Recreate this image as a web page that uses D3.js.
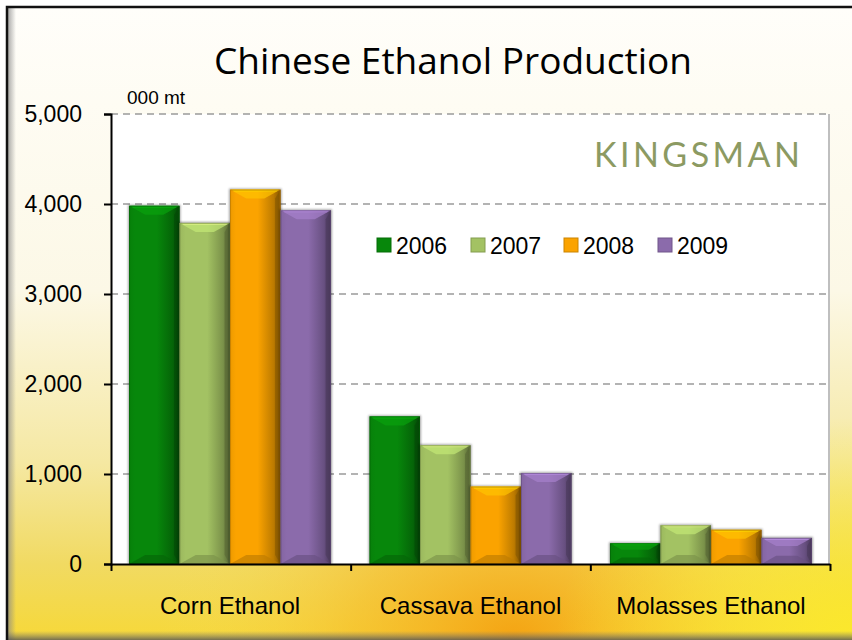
<!DOCTYPE html>
<html>
<head>
<meta charset="utf-8">
<script src="https://cdn.jsdelivr.net/npm/d3@7"></script>
<style>
  html, body { margin: 0; padding: 0; background: #fff; }
  svg { display: block; }
  text { font-family: "Liberation Sans", Arial, sans-serif; }
</style>
</head>
<body>
<svg id="chart" width="852" height="640"></svg>
<script>
// chart data
var categories = ['Corn Ethanol', 'Cassava Ethanol', 'Molasses Ethanol'];
var years = ['2006', '2007', '2008', '2009'];
var v2006 = [3980, 1640, 230];
var v2007 = [3790, 1320, 430];
var v2008 = [4160, 860, 380];
var v2009 = [3930, 1010, 290];
var yTicks = [0, 1000, 2000, 3000, 4000, 5000];

var series = [v2006, v2007, v2008, v2009];
var colors = ['#07870b', '#a3c263', '#fba300', '#8b6bab'];

var W = 852, H = 640;
var plot = { left: 111, right: 830, top: 114, bottom: 564 };

var svg = d3.select('#chart');
var defs = svg.append('defs');

// background
var bg = defs.append('linearGradient').attr('id', 'bg')
    .attr('x1', 0).attr('y1', 0).attr('x2', 0).attr('y2', 1);
bg.append('stop').attr('offset', '0%').attr('stop-color', '#fffefa');
bg.append('stop').attr('offset', '45%').attr('stop-color', '#fcf8e6');
bg.append('stop').attr('offset', '72%').attr('stop-color', '#f5e8a2');
bg.append('stop').attr('offset', '88%').attr('stop-color', '#f1da62');
bg.append('stop').attr('offset', '100%').attr('stop-color', '#f6d838');

var sun = defs.append('radialGradient').attr('id', 'sun')
    .attr('cx', 0.6).attr('cy', 1.0).attr('r', 0.42);
sun.append('stop').attr('offset', '0%').attr('stop-color', '#f4a010').attr('stop-opacity', 0.95);
sun.append('stop').attr('offset', '45%').attr('stop-color', '#f6b828').attr('stop-opacity', 0.55);
sun.append('stop').attr('offset', '100%').attr('stop-color', '#f8e060').attr('stop-opacity', 0);

var rightGlow = defs.append('radialGradient').attr('id', 'rglow')
    .attr('cx', 1.0).attr('cy', 1.0).attr('r', 0.35);
rightGlow.append('stop').attr('offset', '0%').attr('stop-color', '#fbe82c').attr('stop-opacity', 1);
rightGlow.append('stop').attr('offset', '100%').attr('stop-color', '#fbe82c').attr('stop-opacity', 0);

var bottomShade = defs.append('linearGradient').attr('id', 'bshade')
    .attr('x1', 0).attr('y1', 0).attr('x2', 0).attr('y2', 1);
bottomShade.append('stop').attr('offset', '0%').attr('stop-color', '#777').attr('stop-opacity', 0);
bottomShade.append('stop').attr('offset', '100%').attr('stop-color', '#555').attr('stop-opacity', 0.8);

var leftShade = defs.append('linearGradient').attr('id', 'lshade')
    .attr('x1', 0).attr('y1', 0).attr('x2', 1).attr('y2', 0);
leftShade.append('stop').attr('offset', '0%').attr('stop-color', '#888').attr('stop-opacity', 0.7);
leftShade.append('stop').attr('offset', '100%').attr('stop-color', '#888').attr('stop-opacity', 0);

svg.append('rect').attr('width', W).attr('height', H).attr('fill', '#fff');
svg.append('rect').attr('x', 6).attr('y', 6).attr('width', W - 6).attr('height', H - 6).attr('fill', 'url(#bg)');
svg.append('rect').attr('x', 6).attr('y', 6).attr('width', W - 6).attr('height', H - 6).attr('fill', 'url(#sun)');
svg.append('rect').attr('x', 6).attr('y', 6).attr('width', W - 6).attr('height', H - 6).attr('fill', 'url(#rglow)');
svg.append('rect').attr('x', 8).attr('y', 8).attr('width', 8).attr('height', H - 8).attr('fill', 'url(#lshade)');
svg.append('rect').attr('x', 6).attr('y', H - 9).attr('width', W - 6).attr('height', 9).attr('fill', 'url(#bshade)');
svg.append('path').attr('d', 'M7,' + H + 'V7H' + W)
    .attr('fill', 'none').attr('stroke', '#111').attr('stroke-width', 2.5);

// scales
var y = d3.scaleLinear().domain([0, 5000]).range([plot.bottom, plot.top]);
var x0 = d3.scaleBand().domain(categories).range([plot.left, plot.right])
    .paddingInner(0.16).paddingOuter(0.075);
var x1 = d3.scaleBand().domain(years).range([0, x0.bandwidth()]);
var xb = d3.scaleLinear().domain([0, categories.length]).range([plot.left, plot.right]);

// plot area
svg.append('rect').attr('x', plot.left).attr('y', plot.top)
    .attr('width', plot.right - plot.left).attr('height', plot.bottom - plot.top)
    .attr('fill', '#fff');
svg.append('line').attr('x1', plot.right - 1).attr('x2', plot.right - 1)
    .attr('y1', plot.top).attr('y2', plot.bottom).attr('stroke', '#aaa').attr('stroke-width', 1.5);

// grid
svg.append('g').selectAll('line').data(yTicks.filter(function (d) { return d > 0; }))
  .enter().append('line')
    .attr('x1', plot.left).attr('x2', plot.right)
    .attr('y1', function (d) { return y(d); }).attr('y2', function (d) { return y(d); })
    .attr('stroke', '#9a9a9a').attr('stroke-width', 1.5).attr('stroke-dasharray', '7,5');

// bars
var shadow = defs.append('filter').attr('id', 'shadow')
    .attr('x', '-20%').attr('y', '-20%').attr('width', '140%').attr('height', '140%');
shadow.append('feGaussianBlur').attr('stdDeviation', 1.2);

years.forEach(function (yr, i) {
    var c = d3.color(colors[i]);
    var g = defs.append('linearGradient').attr('id', 'bar' + i)
        .attr('x1', 0).attr('y1', 0).attr('x2', 1).attr('y2', 0);
    g.append('stop').attr('offset', '0%').attr('stop-color', c.darker(0.15));
    g.append('stop').attr('offset', '12%').attr('stop-color', c);
    g.append('stop').attr('offset', '55%').attr('stop-color', c);
    g.append('stop').attr('offset', '86%').attr('stop-color', c.darker(0.8));
    g.append('stop').attr('offset', '100%').attr('stop-color', c.darker(1.8));
});

var bars = [];
categories.forEach(function (cat, ci) {
    years.forEach(function (yr, si) {
        bars.push({ cat: cat, yr: yr, si: si, value: series[si][ci] });
    });
});

var barG = svg.append('g').selectAll('g').data(bars).enter().append('g');

barG.append('rect')
    .attr('x', function (d) { return x0(d.cat) + x1(d.yr) - 1; })
    .attr('y', function (d) { return y(d.value) - 1; })
    .attr('width', x1.bandwidth() + 2)
    .attr('height', function (d) { return y(0) - y(d.value) + 1; })
    .attr('fill', '#000').attr('opacity', 0.35).attr('filter', 'url(#shadow)');

barG.each(function (d) {
    var g = d3.select(this);
    var bx = x0(d.cat) + x1(d.yr), bw = x1.bandwidth();
    var by = y(d.value), bh = y(0) - y(d.value);
    var b = Math.min(9, bh / 3.2);
    var c = d3.color(colors[d.si]);
    g.append('rect').attr('x', bx).attr('y', by).attr('width', bw).attr('height', bh)
        .attr('fill', 'url(#bar' + d.si + ')');
    // top bevel
    g.append('path')
        .attr('d', 'M' + bx + ',' + by + 'H' + (bx + bw) + 'L' + (bx + bw - b * 1.8) + ',' + (by + b) +
            'H' + (bx + b * 1.8) + 'Z')
        .attr('fill', c.brighter(0.5)).attr('opacity', 0.7);
    g.append('path')
        .attr('d', 'M' + (bx + 2) + ',' + by + 'H' + (bx + bw - 2) + 'L' + (bx + bw - 4) + ',' + (by + 2) +
            'H' + (bx + 4) + 'Z')
        .attr('fill', c.brighter(1.1)).attr('opacity', 0.45);
    // bottom bevel
    g.append('path')
        .attr('d', 'M' + bx + ',' + (by + bh) + 'H' + (bx + bw) + 'L' + (bx + bw - b * 1.8) + ',' + (by + bh - b) +
            'H' + (bx + b * 1.8) + 'Z')
        .attr('fill', c.darker(0.8)).attr('opacity', 0.65);
    // right bevel
    g.append('path')
        .attr('d', 'M' + (bx + bw) + ',' + by + 'L' + (bx + bw - b * 0.6) + ',' + (by + b) +
            'V' + (by + bh - b) + 'L' + (bx + bw) + ',' + (by + bh) + 'Z')
        .attr('fill', c.darker(1.8)).attr('opacity', 0.6);
    g.append('rect').attr('x', bx + 0.5).attr('y', by + 0.5).attr('width', bw - 1).attr('height', Math.max(0, bh - 1))
        .attr('fill', 'none').attr('stroke', c.darker(1)).attr('stroke-width', 1).attr('opacity', 0.6);
});

// axes
var yAxis = svg.append('g').attr('transform', 'translate(' + plot.left + ',0)')
    .call(d3.axisLeft(y).tickValues(yTicks).tickFormat(d3.format(',')).tickSize(7).tickPadding(22));
yAxis.select('.domain').attr('stroke', '#000').attr('stroke-width', 2);
yAxis.selectAll('.tick line').attr('stroke', '#000').attr('stroke-width', 2);
yAxis.selectAll('.tick text').attr('font-size', 23).attr('fill', '#000')
    .attr('font-family', '"Liberation Sans", Arial, sans-serif');

var xTicks = svg.append('g').attr('transform', 'translate(0,' + plot.bottom + ')')
    .call(d3.axisBottom(xb).tickValues(d3.range(categories.length + 1)).tickFormat('').tickSize(7).tickSizeOuter(0));
xTicks.select('.domain').attr('stroke', '#000').attr('stroke-width', 2);
xTicks.selectAll('.tick line').attr('stroke', '#000').attr('stroke-width', 2);

var xAxis = svg.append('g').attr('transform', 'translate(0,' + plot.bottom + ')')
    .call(d3.axisBottom(x0).tickSize(0).tickPadding(33));
xAxis.select('.domain').remove();
xAxis.selectAll('.tick text').attr('font-size', 24).attr('fill', '#000')
    .attr('font-family', '"Liberation Sans", Arial, sans-serif');

// titles
svg.append('text').attr('x', 453).attr('y', 74).attr('text-anchor', 'middle')
    .attr('font-size', 37).attr('fill', '#000')
    .style('font-family', '"Open Sans", "DejaVu Sans", sans-serif')
    .text('Chinese Ethanol Production');

svg.append('text').attr('x', 127).attr('y', 104)
    .attr('font-size', 19).attr('fill', '#000')
    .text('000 mt');

svg.append('text').attr('x', 594).attr('y', 167)
    .attr('font-size', 34).attr('fill', '#8c9a62')
    .attr('textLength', 206).attr('lengthAdjust', 'spacing')
    .style('font-family', '"Lato", "Open Sans", sans-serif').style('font-weight', 400)
    .text('KINGSMAN');

// legend
var legend = svg.append('g').selectAll('g').data(years).enter().append('g')
    .attr('transform', function (d, i) { return 'translate(' + [377, 471, 564, 658][i] + ',238)'; });
legend.append('rect').attr('width', 14).attr('height', 14)
    .attr('fill', function (d, i) { return colors[i]; })
    .attr('stroke', function (d, i) { return d3.color(colors[i]).darker(0.6); }).attr('stroke-width', 1);
legend.append('text').attr('x', 19).attr('y', 16)
    .attr('font-size', 23).attr('fill', '#000')
    .text(function (d) { return d; });
</script>
</body>
</html>
